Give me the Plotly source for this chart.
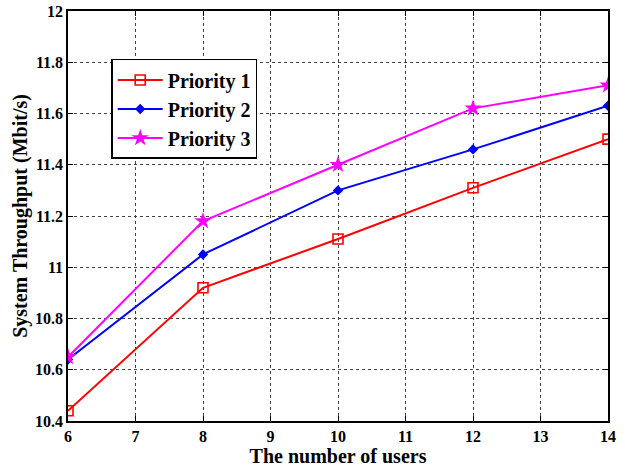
import plotly.graph_objects as go

users = [6, 8, 10, 12, 14]
priority1 = [10.44, 10.92, 11.11, 11.31, 11.50]
priority2 = [10.64, 11.05, 11.30, 11.46, 11.63]
priority3 = [10.65, 11.18, 11.40, 11.62, 11.71]
x_ticks = [6, 7, 8, 9, 10, 11, 12, 13, 14]
x_tick_text = ["6", "7", "8", "9", "10", "11", "12", "13", "14"]
y_ticks = [10.4, 10.6, 10.8, 11, 11.2, 11.4, 11.6, 11.8, 12]
y_tick_text = ["10.4", "10.6", "10.8", "11", "11.2", "11.4", "11.6", "11.8", "12"]

font = "Liberation Serif, Times New Roman, serif"

fig = go.Figure()
fig.add_trace(go.Scatter(x=users, y=priority1, name="<b>Priority 1</b>", mode="lines+markers",
                         line=dict(color="#ff0000", width=2),
                         marker=dict(symbol="square-open", size=10, color="#ff0000",
                                     line=dict(width=1.6, color="#ff0000"))))
fig.add_trace(go.Scatter(x=users, y=priority2, name="<b>Priority 2</b>", mode="lines+markers",
                         line=dict(color="#0000ff", width=2),
                         marker=dict(symbol="diamond", size=8, color="#0000ff")))
fig.add_trace(go.Scatter(x=users, y=priority3, name="<b>Priority 3</b>", mode="lines+markers",
                         line=dict(color="#ff00ff", width=2),
                         marker=dict(symbol="star", size=13, color="#ff00ff")))

axis_common = dict(showline=True, linecolor="black", linewidth=1.5, mirror="ticks",
                   ticks="inside", ticklen=5, tickcolor="black",
                   showgrid=True, gridcolor="#444444", griddash="dot", gridwidth=1,
                   zeroline=False, automargin=False, ticklabeloverflow="allow",
                   tickfont=dict(family=font, size=16, color="black"))

fig.update_xaxes(range=[6, 14], tickvals=x_ticks,
                 ticktext=["<b>%s</b>" % t for t in x_tick_text],
                 title=dict(text="<b>The number of users</b>", standoff=1,
                            font=dict(family=font, size=20, color="black")),
                 **axis_common)
fig.update_yaxes(range=[10.4, 12], tickvals=y_ticks,
                 ticktext=["<b>%s</b>" % t for t in y_tick_text],
                 title=dict(text="<b>System Throughput (Mbit/s)</b>", standoff=2,
                            font=dict(family=font, size=20, color="black")),
                 **axis_common)

fig.update_layout(
    width=625, height=471,
    margin=dict(l=68, r=17, t=11, b=50, autoexpand=False),
    paper_bgcolor="white", plot_bgcolor="white",
    font=dict(family=font, color="black"),
    showlegend=True,
    hovermode=False,
    legend=dict(x=0.08, y=0.883, xanchor="left", yanchor="top",
                bgcolor="white", bordercolor="black", borderwidth=1.5,
                font=dict(family=font, size=20, color="black"),
                itemwidth=45, tracegroupgap=0),
)

# remove the default page margin so the figure fills the window exactly
fig.write_html("out.html", config={"displayModeBar": False},
               post_script="document.body.style.margin='0';document.body.style.overflow='hidden';")
